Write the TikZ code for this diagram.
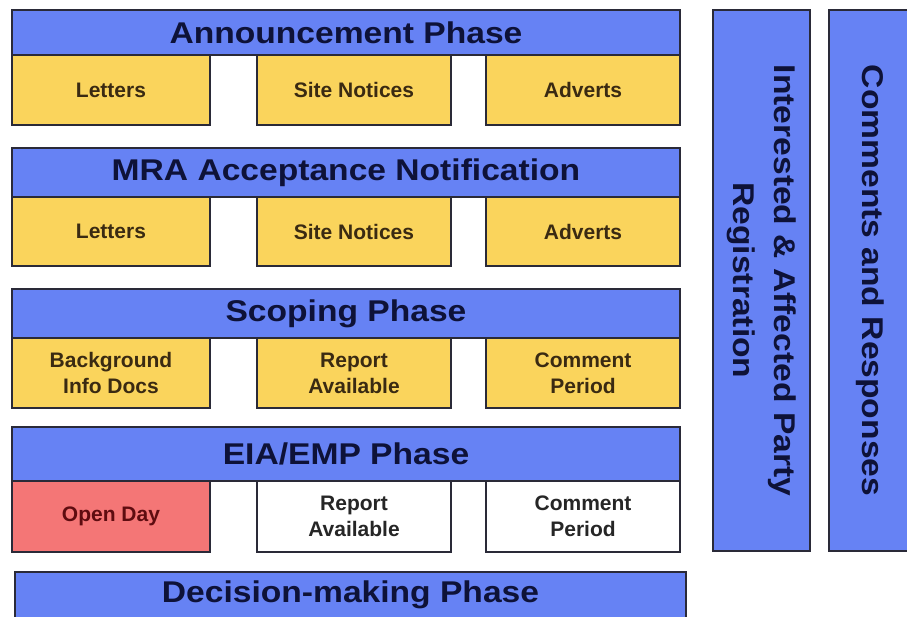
\documentclass[tikz,border=0pt]{standalone}
\usepackage{fontspec}
\setmainfont{Liberation Sans}
\newfontfamily\headfont{Liberation Sans}[FakeStretch=1.12]
\usetikzlibrary{positioning}

\definecolor{phaseblue}{HTML}{6682F4}
\definecolor{itemyellow}{HTML}{FAD45C}
\definecolor{openred}{HTML}{F47676}
\definecolor{edgec}{HTML}{2A2A38}
\definecolor{headtext}{HTML}{0E1238}
\definecolor{itemtext}{HTML}{3A2A12}
\definecolor{redtext}{HTML}{5E0C10}

\begin{document}
\begin{tikzpicture}[x=1pt, y=-1pt,
    phase/.style={draw=edgec, line width=1.1pt, fill=phaseblue, minimum width=668pt, inner sep=0pt, align=center, text=headtext, font=\headfont\bfseries\fontsize{30}{36}\selectfont},
    item/.style={draw=edgec, line width=1.1pt, fill=itemyellow, minimum height=70pt, inner sep=0pt, align=center, text=itemtext, font=\bfseries\fontsize{21}{26}\selectfont},
    side/.style={draw=edgec, line width=1.1pt, fill=phaseblue, rotate=-90, minimum width=541pt, inner sep=0pt, align=center, text=headtext, font=\headfont\bfseries\fontsize{30}{41}\selectfont}
]
\useasboundingbox (0,0) rectangle (907,617);

% phases on the left
\node[phase, minimum height=45pt] (ann) at (346,32.5) {Announcement Phase};
\node[item, minimum width=198pt] (annA) at (111,90) {Letters};
\node[item, minimum width=194pt] (annB) at (354,90) {Site Notices};
\node[item, minimum width=194pt] (annC) at (583,90) {Adverts};

\node[phase, minimum height=49pt] (mra) at (346,172.5) {MRA Acceptance Notification};
\node[item, minimum width=198pt, minimum height=69pt] (mraA) at (111,231.5) {Letters};
\node[item, minimum width=194pt, minimum height=69pt] (mraB) at (354,231.5) {Site Notices};
\node[item, minimum width=194pt, minimum height=69pt] (mraC) at (583,231.5) {Adverts};

\node[phase, minimum height=49pt] (scop) at (346,313.5) {Scoping Phase};
\node[item, minimum width=198pt] (scopA) at (111,373) {Background\\Info Docs};
\node[item, minimum width=194pt] (scopB) at (354,373) {Report\\Available};
\node[item, minimum width=194pt] (scopC) at (583,373) {Comment\\Period};

\node[phase, minimum height=54pt] (eia) at (346,454) {EIA/EMP Phase};
\node[item, minimum width=198pt, minimum height=71pt, fill=openred, text=redtext] (eiaA) at (111,516.5) {Open Day};
\node[item, minimum width=194pt, minimum height=71pt, fill=white, text=black!85] (eiaB) at (354,516.5) {Report\\Available};
\node[item, minimum width=194pt, minimum height=71pt, fill=white, text=black!85] (eiaC) at (583,516.5) {Comment\\Period};

\node[phase, minimum width=671pt, minimum height=46pt] (dec) at (350.5,595) {Decision-making Phase};

% columns on the right
\node[side, minimum height=97pt] (reg) at (761.5,280.5) {Interested \& Affected Party\\Registration};
\node[side, minimum height=83pt] (resp) at (870.5,280.5) {Comments and Responses};
\end{tikzpicture}
\end{document}
